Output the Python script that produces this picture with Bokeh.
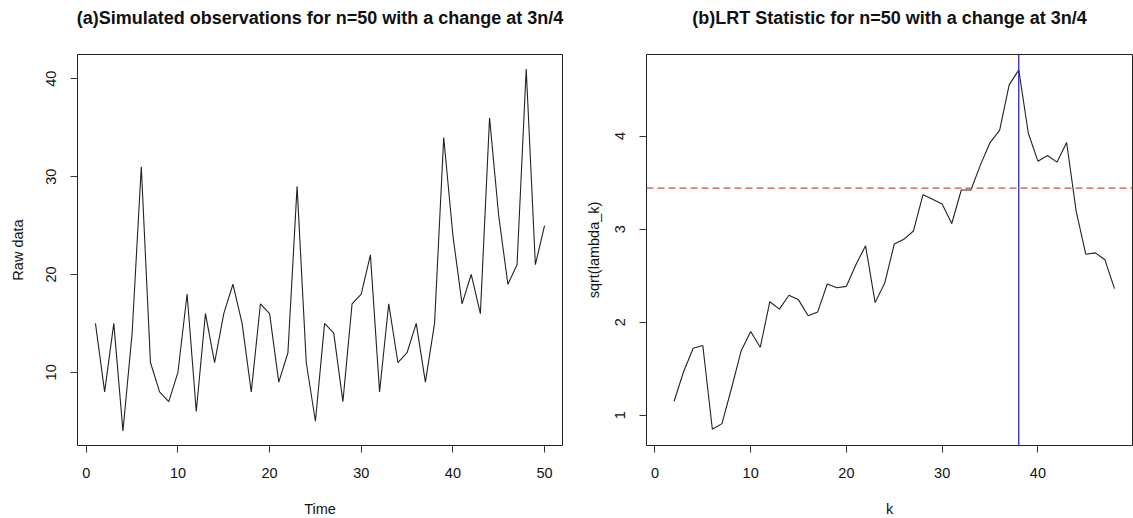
from bokeh.plotting import figure
from bokeh.layouts import row
from bokeh.models import FixedTicker, Range1d, Span, Title
from bokeh.embed import file_html
from bokeh.resources import INLINE

# ---- data ----
time_idx = list(range(1, 51))
raw_data = [15, 8, 15, 4, 14, 31, 11, 8, 7, 10,
            18, 6, 16, 11, 16, 19, 15, 8, 17, 16,
            9, 12, 29, 11, 5, 15, 14, 7, 17, 18,
            22, 8, 17, 11, 12, 15, 9, 15, 34, 24,
            17, 20, 16, 36, 26, 19, 21, 41, 21, 25]

k_idx = list(range(2, 49))
lrt_stat = [1.15, 1.47, 1.72, 1.75, 0.85, 0.91, 1.29, 1.69, 1.90, 1.73,
            2.22, 2.14, 2.29, 2.24, 2.07, 2.11, 2.41, 2.37, 2.385, 2.62,
            2.82, 2.21, 2.42, 2.84, 2.89, 2.98, 3.37, 3.32, 3.27, 3.06,
            3.42, 3.42, 3.69, 3.93, 4.06, 4.55, 4.71, 4.03, 3.73, 3.79,
            3.72, 3.93, 3.19, 2.73, 2.745, 2.67, 2.36]

threshold = 3.44
change_k = 38

x_ticks_a = [0, 10, 20, 30, 40, 50]
y_ticks_a = [10, 20, 30, 40]
x_ticks_b = [0, 10, 20, 30, 40]
y_ticks_b = [1, 2, 3, 4]

title_a = "(a)Simulated observations for n=50 with a change at 3n/4"
title_b = "(b)LRT Statistic for n=50 with a change at 3n/4"

FONT = "Liberation Sans"


def style(p, xticks, yticks, xlabel, ylabel, ylab_standoff, title_text):
    p.outline_line_color = "#222222"
    p.outline_line_width = 1
    p.outline_line_alpha = 1
    p.xgrid.visible = False
    p.ygrid.visible = False
    p.xaxis.ticker = FixedTicker(ticks=xticks)
    p.yaxis.ticker = FixedTicker(ticks=yticks)
    for ax in (p.xaxis, p.yaxis):
        ax.axis_line_color = None
        ax.major_tick_in = 0
        ax.major_tick_out = 7
        ax.major_tick_line_color = "#333333"
        ax.minor_tick_line_color = None
        ax.major_label_text_font = FONT
        ax.major_label_text_font_size = "14.5px"
        ax.major_label_text_color = "#111111"
        ax.axis_label_text_font = FONT
        ax.axis_label_text_font_size = "14.5px"
        ax.axis_label_text_font_style = "normal"
        ax.axis_label_text_color = "#111111"
    p.xaxis.axis_label = xlabel
    p.yaxis.axis_label = ylabel
    p.xaxis.major_label_standoff = 15
    p.xaxis.axis_label_standoff = 20
    p.yaxis.major_label_standoff = 14
    p.yaxis.axis_label_standoff = ylab_standoff
    p.yaxis.major_label_orientation = "vertical"
    # spacer panel (closest to the frame) then the real title above it
    p.add_layout(Title(text=" ", text_font_size="16px", standoff=7,
                       text_font=FONT), "above")
    p.add_layout(Title(text=title_text, text_font=FONT, text_font_size="18px",
                       text_font_style="bold", text_color="#111111",
                       align="center", standoff=2), "above")


pa = figure(frame_width=485, frame_height=391,
            min_border_left=77, min_border_right=4,
            min_border_top=54, min_border_bottom=73,
            x_range=Range1d(-0.96, 51.96), y_range=Range1d(2.52, 42.48),
            title=None, output_backend="svg", toolbar_location=None,
            background_fill_color="white", border_fill_color="white")
pa.line(time_idx, raw_data, line_color="#222222", line_width=1.1)
style(pa, x_ticks_a, y_ticks_a, "Time", "Raw data", 18, title_a)

pb = figure(frame_width=486, frame_height=391,
            min_border_left=80, min_border_right=1,
            min_border_top=54, min_border_bottom=73,
            x_range=Range1d(-0.88, 49.88), y_range=Range1d(0.675, 4.876),
            title=None, output_backend="svg", toolbar_location=None,
            background_fill_color="white", border_fill_color="white")
pb.line(k_idx, lrt_stat, line_color="#222222", line_width=1.1)
pb.add_layout(Span(location=threshold, dimension="width", line_color="#c84f4f",
                   line_width=1.3, line_dash="7 4"))
pb.add_layout(Span(location=change_k, dimension="height", line_color="#2a2ab8",
                   line_width=1.3))
style(pb, x_ticks_b, y_ticks_b, "k", "sqrt(lambda_k)", 11, title_b)

layout = row(pa, pb)
open("out.html", "w").write(file_html(layout, INLINE))
